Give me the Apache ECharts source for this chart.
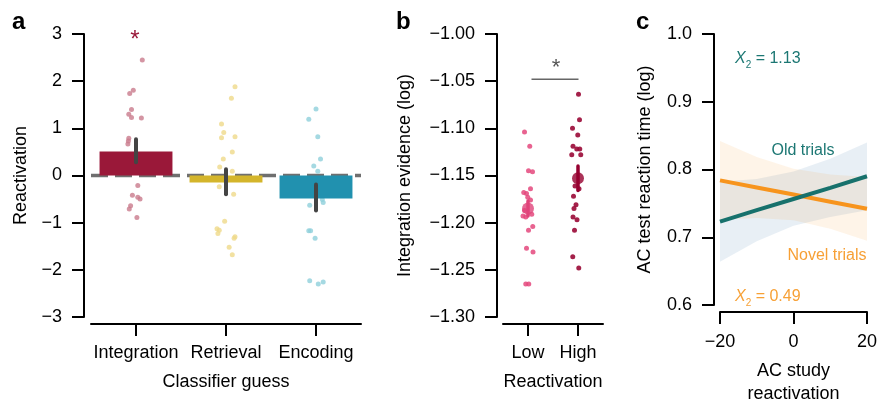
<!DOCTYPE html>
<html><head><meta charset="utf-8">
<script src="https://cdn.jsdelivr.net/npm/echarts@6/dist/echarts.min.js"></script>
<style>html,body{margin:0;padding:0;background:#fff}#c{width:880px;height:411px}</style>
</head><body><div id="c"></div>
<script>
// ---------- Panel a data ----------
const catsA = ['Integration', 'Retrieval', 'Encoding'];
const barMeans = [0.51, -0.15, -0.49];
const barErrLow = [0.28, -0.40, -0.74];
const barErrHigh = [0.77, 0.13, -0.19];
const intVals = [2.45, 1.81, 1.74, 1.40, 1.30, 1.23, 1.22, 0.79, 0.73, 0.67, -0.21, -0.42, -0.46, -0.50, -0.64, -0.71, -0.89];
const intJit = [0.07, -0.03, -0.07, -0.05, -0.08, -0.05, 0.06, -0.08, -0.085, -0.09, 0.02, -0.04, 0.02, 0.045, -0.06, -0.075, 0.01];
const retVals = [1.88, 1.64, 1.09, 0.91, 0.80, 0.82, 0.50, 0.35, 0.18, 0.09, -0.24, -0.40, -0.97, -1.13, -1.16, -1.23, -1.30, -1.33, -1.52, -1.68];
const retJit = [0.10, 0.06, -0.05, -0.025, -0.05, 0.10, 0.07, -0.03, -0.07, 0.07, -0.075, 0.085, -0.015, -0.10, -0.075, -0.09, 0.10, 0.09, 0.035, 0.07];
const encVals = [1.41, 1.19, 0.82, 0.35, 0.20, 0.09, -0.51, -0.57, -0.63, -1.17, -1.17, -1.33, -2.23, -2.30, -2.26];
const encJit = [0, -0.08, 0.02, 0.05, -0.025, 0.02, 0.07, 0.08, -0.07, -0.08, -0.06, -0.01, -0.07, 0.025, 0.08];
const yTicksA = [-3, 3, 1];

// ---------- Panel b data ----------
const catsB = ['Low', 'High'];
const meansB = [-1.185, -1.153];
const errLowB = [-1.193, -1.166];
const errHighB = [-1.177, -1.140];
const lowVals = [-1.104, -1.119, -1.145, -1.146, -1.164, -1.168, -1.169, -1.173, -1.176, -1.187, -1.193, -1.194, -1.191, -1.204, -1.208, -1.227, -1.231, -1.265, -1.265];
const lowJit = [-0.07, 0.035, 0.01, 0.09, 0.05, -0.085, -0.03, -0.005, 0.05, -0.07, -0.1, -0.045, 0.075, 0.095, 0.01, -0.03, 0.1, -0.045, 0.015];
const highVals = [-1.064, -1.091, -1.100, -1.107, -1.119, -1.122, -1.122, -1.128, -1.128, -1.161, -1.164, -1.172, -1.181, -1.185, -1.194, -1.197, -1.208, -1.236, -1.248];
const highJit = [0.01, 0.03, -0.11, -0.005, -0.1, -0.025, 0.035, -0.125, 0.055, -0.06, 0.02, -0.09, -0.04, -0.08, -0.1, -0.02, -0.07, -0.105, 0.015];
const bracketB = [[0.07, -1.048], [1.01, -1.048]];

// ---------- Panel c data ----------
const xC = [-20, -10, 0, 10, 20];
const oldFit = [0.723, 0.740, 0.7565, 0.773, 0.790];
const oldUpper = [0.782, 0.786, 0.797, 0.816, 0.840];
const oldLower = [0.664, 0.694, 0.717, 0.730, 0.740];
const novelFit = [0.784, 0.7735, 0.763, 0.7525, 0.742];
const novelUpper = [0.842, 0.8185, 0.801, 0.7925, 0.789];
const novelLower = [0.726, 0.7285, 0.725, 0.7125, 0.695];

const FONT = '"Liberation Sans", Arial, Helvetica, sans-serif';
const minus = v => String(v).replace('-', '\u2212');

function axisCommon() {
  return {
    axisLine: { show: true, onZero: false, lineStyle: { color: '#000', width: 2 } },
    axisTick: { show: true, length: 12, lineStyle: { color: '#000', width: 2 } },
    axisLabel: { color: '#000', fontSize: 18, fontFamily: FONT, margin: 20 },
    splitLine: { show: false },
    nameTextStyle: { color: '#000', fontSize: 18, fontFamily: FONT }
  };
}
function hiddenX(grid, min, max) {
  return { type: 'value', gridIndex: grid, min: min, max: max, show: false, axisLine: { onZero: false } };
}
function errRender(colors, width) {
  return function (params, api) {
    const x = api.value(0);
    const p1 = api.coord([x, api.value(1)]);
    const p2 = api.coord([x, api.value(2)]);
    return { type: 'line', shape: { x1: p1[0], y1: p1[1], x2: p2[0], y2: p2[1] },
      style: { stroke: colors[params.dataIndex], lineWidth: width, lineCap: 'round' } };
  };
}
// confidence band drawn as one polygon through the axis scales
function bandRender(xs, lo, hi, fill) {
  return function (params, api) {
    if (params.dataIndex !== 0) return null;
    const pts = [];
    for (let i = 0; i < xs.length; i++) pts.push(api.coord([xs[i], hi[i]]));
    for (let i = xs.length - 1; i >= 0; i--) pts.push(api.coord([xs[i], lo[i]]));
    return { type: 'polygon', shape: { points: pts }, style: { fill: fill } };
  };
}
const lbl = { color: '#000', fontSize: 18, fontFamily: FONT, margin: 20, interval: 0 };
const tickCat = { show: true, length: 12, alignWithLabel: true, lineStyle: { color: '#000', width: 2 } };

const chart = echarts.init(document.getElementById('c'), null, { renderer: 'canvas' });
const opt = {
  animation: false,
  backgroundColor: '#fff',
  textStyle: { fontFamily: FONT },
  grid: [
    { left: 91, top: 34, width: 270, height: 283 },
    { left: 503, top: 34, width: 100, height: 283 },
    { left: 720, top: 34, width: 150.7, height: 283 }
  ],
  xAxis: [
    Object.assign(axisCommon(), { type: 'category', gridIndex: 0, data: catsA, offset: 7, axisTick: tickCat, axisLabel: lbl,
      name: 'Classifier guess', nameLocation: 'middle', nameGap: 49 }),
    hiddenX(0, -0.5, 2.5),
    Object.assign(axisCommon(), { type: 'category', gridIndex: 1, data: catsB, offset: 7, axisTick: tickCat, axisLabel: lbl,
      name: 'Reactivation', nameLocation: 'middle', nameGap: 49 }),
    hiddenX(1, -0.5, 1.5),
    Object.assign(axisCommon(), { type: 'value', gridIndex: 2, min: -20, max: 20, interval: 20, offset: 7,
      name: 'AC study\nreactivation', nameLocation: 'middle', nameGap: 48,
      nameTextStyle: { color: '#000', fontSize: 18, fontFamily: FONT, lineHeight: 23 },
      axisLabel: { color: '#000', fontSize: 18, fontFamily: FONT, margin: 21, formatter: v => minus(v) } })
  ],
  yAxis: [
    Object.assign(axisCommon(), { type: 'value', gridIndex: 0, min: yTicksA[0], max: yTicksA[1], interval: yTicksA[2], offset: 7,
      name: 'Reactivation', nameLocation: 'middle', nameGap: 54,
      axisLabel: { color: '#000', fontSize: 18, fontFamily: FONT, margin: 22, formatter: v => minus(v) } }),
    Object.assign(axisCommon(), { type: 'value', gridIndex: 1, min: -1.3, max: -1.0, interval: 0.05, offset: 6,
      name: 'Integration evidence (log)', nameLocation: 'middle', nameGap: 83,
      axisLabel: { color: '#000', fontSize: 18, fontFamily: FONT, margin: 22, formatter: v => minus(v.toFixed(2)) } }),
    Object.assign(axisCommon(), { type: 'value', gridIndex: 2, min: 0.6, max: 1.0, interval: 0.1, offset: 6,
      name: 'AC test reaction time (log)', nameLocation: 'middle', nameGap: 60,
      axisLabel: { color: '#000', fontSize: 18, fontFamily: FONT, margin: 22, formatter: v => v.toFixed(1) } })
  ],
  series: [
    // ---- panel a ----
    { type: 'scatter', xAxisIndex: 1, yAxisIndex: 0, symbolSize: 5, z: 2,
      itemStyle: { color: '#C97A8C' }, data: intVals.map((v, i) => [0 + intJit[i], v]) },
    { type: 'scatter', xAxisIndex: 1, yAxisIndex: 0, symbolSize: 5, z: 2,
      itemStyle: { color: '#EFD98A' }, data: retVals.map((v, i) => [1 + retJit[i], v]) },
    { type: 'scatter', xAxisIndex: 1, yAxisIndex: 0, symbolSize: 5, z: 2,
      itemStyle: { color: '#8ECFDB' }, data: encVals.map((v, i) => [2 + encJit[i], v]) },
    { type: 'line', xAxisIndex: 1, yAxisIndex: 0, symbol: 'none', z: 2,
      lineStyle: { color: '#6f6f6f', width: 3.5, type: [17, 7] }, data: [[-0.5, 0], [2.5, 0]] },
    { type: 'bar', xAxisIndex: 0, yAxisIndex: 0, barWidth: '81%', z: 3,
      data: barMeans.map((v, i) => ({ value: v, itemStyle: { color: ['#9A1839', '#D4B52B', '#2191AF'][i] } })) },
    { type: 'custom', xAxisIndex: 1, yAxisIndex: 0, z: 4, encode: { x: 0, y: [1, 2] },
      renderItem: errRender(['#444', '#444', '#444'], 4),
      data: barMeans.map((v, i) => [i, barErrLow[i], barErrHigh[i]]) },
    // ---- panel b ----
    { type: 'scatter', xAxisIndex: 3, yAxisIndex: 1, symbolSize: 5, z: 2,
      itemStyle: { color: '#E4487C', opacity: 0.85 }, data: lowVals.map((v, i) => [0 + lowJit[i], v]) },
    { type: 'scatter', xAxisIndex: 3, yAxisIndex: 1, symbolSize: 5, z: 2,
      itemStyle: { color: '#9A0936', opacity: 0.9 }, data: highVals.map((v, i) => [1 + highJit[i], v]) },
    { type: 'custom', xAxisIndex: 3, yAxisIndex: 1, z: 3, encode: { x: 0, y: [1, 2] },
      renderItem: errRender(['#E0437A', '#960030'], 3.5),
      data: meansB.map((v, i) => [i, errLowB[i], errHighB[i]]) },
    { type: 'scatter', xAxisIndex: 3, yAxisIndex: 1, symbolSize: 12, z: 4,
      data: meansB.map((v, i) => ({ value: [i, v], itemStyle: { color: ['#E0437A', '#960030'][i] } })) },
    { type: 'line', xAxisIndex: 3, yAxisIndex: 1, symbol: 'none', z: 3,
      lineStyle: { color: '#666', width: 1.5 }, data: bracketB },
    // ---- panel c ----
    { type: 'custom', xAxisIndex: 4, yAxisIndex: 2, z: 1, encode: { x: 0, y: [1, 2] },
      renderItem: bandRender(xC, oldLower, oldUpper, 'rgba(100,150,190,0.15)'),
      data: xC.map((x, i) => [x, oldLower[i], oldUpper[i]]) },
    { type: 'custom', xAxisIndex: 4, yAxisIndex: 2, z: 1, encode: { x: 0, y: [1, 2] },
      renderItem: bandRender(xC, novelLower, novelUpper, 'rgba(247,148,29,0.10)'),
      data: xC.map((x, i) => [x, novelLower[i], novelUpper[i]]) },
    { type: 'line', xAxisIndex: 4, yAxisIndex: 2, symbol: 'none', z: 3,
      lineStyle: { color: '#F7941D', width: 4 }, data: xC.map((x, i) => [x, novelFit[i]]) },
    { type: 'line', xAxisIndex: 4, yAxisIndex: 2, symbol: 'none', z: 4,
      lineStyle: { color: '#17716C', width: 4 }, data: xC.map((x, i) => [x, oldFit[i]]) }
  ],
  graphic: [
    { type: 'text', left: 12, top: 10, style: { text: 'a', font: 'bold 24px ' + FONT, fill: '#000' } },
    { type: 'text', left: 396, top: 10, style: { text: 'b', font: 'bold 24px ' + FONT, fill: '#000' } },
    { type: 'text', left: 636, top: 10, style: { text: 'c', font: 'bold 24px ' + FONT, fill: '#000' } },
    { type: 'text', x: 135, y: 40, style: { text: '*', font: '24px ' + FONT, fill: '#9A1839', align: 'center', verticalAlign: 'middle' } },
    { type: 'text', x: 556, y: 68, style: { text: '*', font: '22px ' + FONT, fill: '#555', align: 'center', verticalAlign: 'middle' } },
    { type: 'text', x: 803, y: 151, style: { text: 'Old trials', font: '16px ' + FONT, fill: '#1C7773', align: 'center', verticalAlign: 'middle' } },
    { type: 'text', x: 827, y: 256, style: { text: 'Novel trials', font: '16px ' + FONT, fill: '#F7A035', align: 'center', verticalAlign: 'middle' } },
    { type: 'text', x: 735, y: 48, style: { text: '{i|X}{s|2}{n| = 1.13}', fill: '#1C7773',
      rich: { i: { fontStyle: 'italic', fontSize: 16, lineHeight: 22, fontFamily: FONT, fill: '#1C7773' },
              s: { fontSize: 10, lineHeight: 12, verticalAlign: 'bottom', fontFamily: FONT, fill: '#1C7773' },
              n: { fontSize: 16, lineHeight: 22, fontFamily: FONT, fill: '#1C7773' } } } },
    { type: 'text', x: 735, y: 286, style: { text: '{i|X}{s|2}{n| = 0.49}', fill: '#F7A035',
      rich: { i: { fontStyle: 'italic', fontSize: 16, lineHeight: 22, fontFamily: FONT, fill: '#F7A035' },
              s: { fontSize: 10, lineHeight: 12, verticalAlign: 'bottom', fontFamily: FONT, fill: '#F7A035' },
              n: { fontSize: 16, lineHeight: 22, fontFamily: FONT, fill: '#F7A035' } } } }
  ]
};
chart.setOption(opt);
</script></body></html>
